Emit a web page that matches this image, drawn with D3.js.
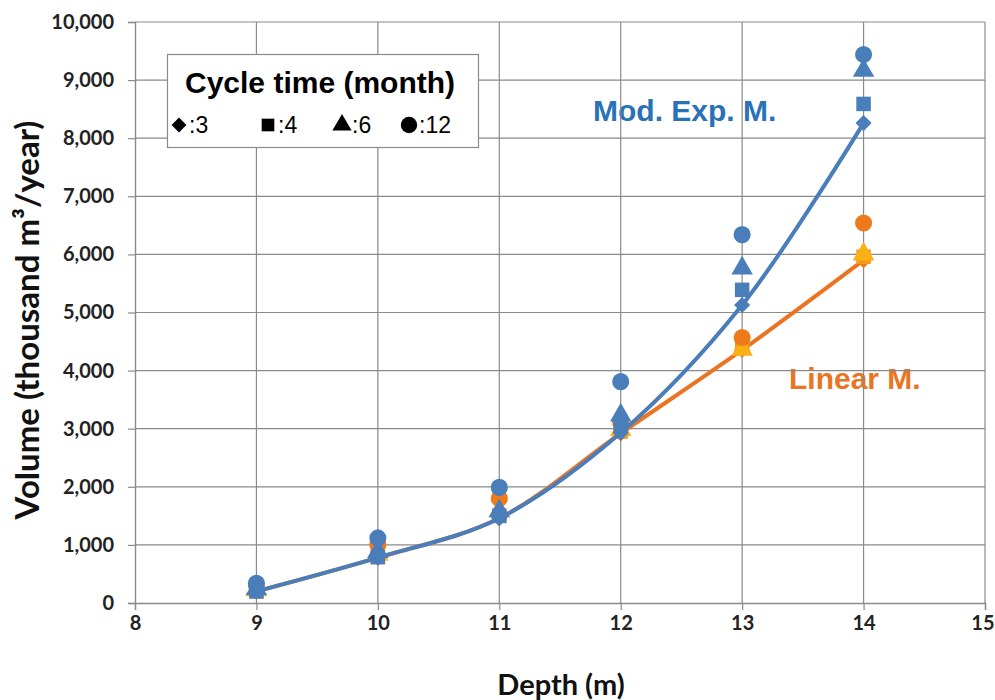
<!DOCTYPE html>
<html>
<head>
<meta charset="utf-8">
<script src="https://cdn.jsdelivr.net/npm/d3@7"></script>
<style>
  html, body { margin: 0; padding: 0; background: #fff; }
  svg { display: block; }
</style>
</head>
<body>
<svg id="chart" width="995" height="700"></svg>
<script>
// Depths (m) on the horizontal axis
const depths = [9, 10, 11, 12, 13, 14];

// Cycle times (months) and their marker shapes
const cycleTimes = [3, 4, 6, 12];
const cycleShapes = ["diamond", "square", "triangle", "circle"];

// Modified exponential model, volume (thousand m3/year) per cycle time
const modExp3  = [200, 780, 1460, 2930, 5130, 8260];
const modExp4  = [200, 790, 1500, 3050, 5390, 8590];
const modExp6  = [260, 900, 1600, 3250, 5780, 9180];
const modExp12 = [340, 1120, 1990, 3810, 6340, 9440];

// Linear model, volume (thousand m3/year) per cycle time
const linear3  = [200, 780, 1460, 2920, 4355, 5900];
const linear4  = [200, 790, 1500, 2950, 4400, 5960];
const linear6  = [240, 850, 1600, 3000, 4380, 6020];
const linear12 = [300, 1000, 1800, 3100, 4570, 6540];

// Axis ticks
const xTicks = [8, 9, 10, 11, 12, 13, 14, 15];
const yTicks = [0, 1000, 2000, 3000, 4000, 5000, 6000, 7000, 8000, 9000, 10000];

const blue = "#4A7EBB";
const blueText = "#2A72B8";
const orangeLine = "#EA7422";
const orangeMarks = ["#EE7A1C", "#F39A1E", "#FBB015", "#EE7A1C"];

const svg = d3.select("#chart");

const x = d3.scaleLinear().domain([8, 15]).range([135, 985]);
const y = d3.scaleLinear().domain([0, 10000]).range([603, 22]);

// Model labels (sit beneath the gridlines)
svg.append("text")
  .attr("x", 593).attr("y", 121)
  .attr("font-family", "Liberation Sans, Arial, sans-serif")
  .attr("font-weight", "bold").attr("font-size", 30)
  .attr("fill", blueText)
  .text("Mod. Exp. M.");

svg.append("text")
  .attr("x", 789).attr("y", 389)
  .attr("font-family", "Liberation Sans, Arial, sans-serif")
  .attr("font-weight", "bold").attr("font-size", 30)
  .attr("fill", orangeLine)
  .text("Linear M.");

// Gridlines
const grid = svg.append("g").attr("stroke", "#8a8a8a").attr("stroke-width", 1.2);
grid.selectAll("line.h").data(yTicks.slice(1)).join("line")
  .attr("x1", x(8)).attr("x2", x(15))
  .attr("y1", d => y(d)).attr("y2", d => y(d));
grid.selectAll("line.v").data(xTicks.slice(1)).join("line")
  .attr("x1", d => x(d)).attr("x2", d => x(d))
  .attr("y1", y(0)).attr("y2", y(10000));

// Axes
const tickFont = "Lato, 'Open Sans', sans-serif";
const yAxis = svg.append("g")
  .attr("transform", `translate(${x(8)},0)`)
  .call(d3.axisLeft(y).tickValues(yTicks).tickFormat(d3.format(",")).tickSize(7).tickPadding(14));
const xAxis = svg.append("g")
  .attr("transform", `translate(0,${y(0)})`)
  .call(d3.axisBottom(x).tickValues(xTicks).tickFormat(d3.format("d")).tickSize(7).tickPadding(6));
[yAxis, xAxis].forEach(a => {
  a.select(".domain").attr("stroke", "#8a8a8a").attr("stroke-width", 1.4);
  a.selectAll(".tick line").attr("stroke", "#8a8a8a").attr("stroke-width", 1.2);
  a.selectAll(".tick text")
    .attr("font-family", tickFont).attr("font-size", 20)
    .attr("font-weight", "bold").attr("fill", "#222");
});
// keep the last depth label inside the page
xAxis.selectAll(".tick text").filter(d => d === 15).attr("text-anchor", "end").attr("dx", 9);

// Axis titles
svg.append("text")
  .attr("transform", `translate(39,320) rotate(-90)`)
  .attr("text-anchor", "middle")
  .attr("font-family", tickFont).attr("font-weight", "bold").attr("font-size", 33)
  .attr("fill", "#111")
  .text("Volume (thousand m³/year)");

svg.append("text")
  .attr("x", 561).attr("y", 695)
  .attr("text-anchor", "middle")
  .attr("font-family", tickFont).attr("font-weight", "bold").attr("font-size", 29)
  .attr("fill", "#111")
  .text("Depth (m)");

// Marker symbol generators
const symbolOf = {
  diamond: d3.symbol().type(d3.symbolSquare).size(130),
  square: d3.symbol().type(d3.symbolSquare).size(210),
  triangle: d3.symbol().type(d3.symbolTriangle).size(200),
  circle: d3.symbol().type(d3.symbolCircle).size(230)
};
function drawMarker(g, shape, cx, cy, fill) {
  const p = g.append("path").attr("d", symbolOf[shape]()).attr("fill", fill);
  if (shape === "diamond") p.attr("transform", `translate(${cx},${cy}) rotate(45)`);
  else if (shape === "triangle") p.attr("transform", `translate(${cx},${cy + 1})`);
  else p.attr("transform", `translate(${cx},${cy})`);
}

const lineGen = d3.line()
  .x(d => x(d[0])).y(d => y(d[1]))
  .curve(d3.curveCatmullRom.alpha(0.5));

const models = [
  { series: [linear3, linear4, linear6, linear12], line: orangeLine, marks: orangeMarks },
  { series: [modExp3, modExp4, modExp6, modExp12], line: blue, marks: [blue, blue, blue, blue] }
];

models.forEach(m => {
  const g = svg.append("g");
  // Fitted curve follows the 3-month series
  g.append("path")
    .datum(depths.map((d, i) => [d, m.series[0][i]]))
    .attr("d", lineGen)
    .attr("fill", "none")
    .attr("stroke", m.line)
    .attr("stroke-width", 4)
    .attr("stroke-linejoin", "round");
  m.series.forEach((vals, k) => {
    vals.forEach((v, i) => drawMarker(g, cycleShapes[k], x(depths[i]), y(v), m.marks[k]));
  });
});

// Legend
const lg = svg.append("g");
lg.append("rect")
  .attr("x", 167.5).attr("y", 54.5).attr("width", 311).attr("height", 93)
  .attr("fill", "#fff").attr("stroke", "#8a8a8a").attr("stroke-width", 1.2);
lg.append("text")
  .attr("x", 185).attr("y", 93)
  .attr("font-family", "Liberation Sans, Arial, sans-serif")
  .attr("font-weight", "bold").attr("font-size", 30)
  .attr("fill", "#000")
  .text("Cycle time (month)");
const legendX = [179, 268, 342, 409];
cycleTimes.forEach((c, k) => {
  const cx = legendX[k];
  const shape = cycleShapes[k];
  const sym = {
    diamond: d3.symbol().type(d3.symbolSquare).size(110),
    square: d3.symbol().type(d3.symbolSquare).size(160),
    triangle: d3.symbol().type(d3.symbolTriangle).size(160),
    circle: d3.symbol().type(d3.symbolCircle).size(210)
  }[shape];
  lg.append("path").attr("d", sym()).attr("fill", "#000")
    .attr("transform", shape === "diamond" ? `translate(${cx},125) rotate(45)` : `translate(${cx},125)`);
  lg.append("text")
    .attr("x", cx + 10).attr("y", 133)
    .attr("font-family", "Liberation Sans, Arial, sans-serif")
    .attr("font-size", 23).attr("fill", "#000")
    .text(":" + c);
});
</script>
</body>
</html>
